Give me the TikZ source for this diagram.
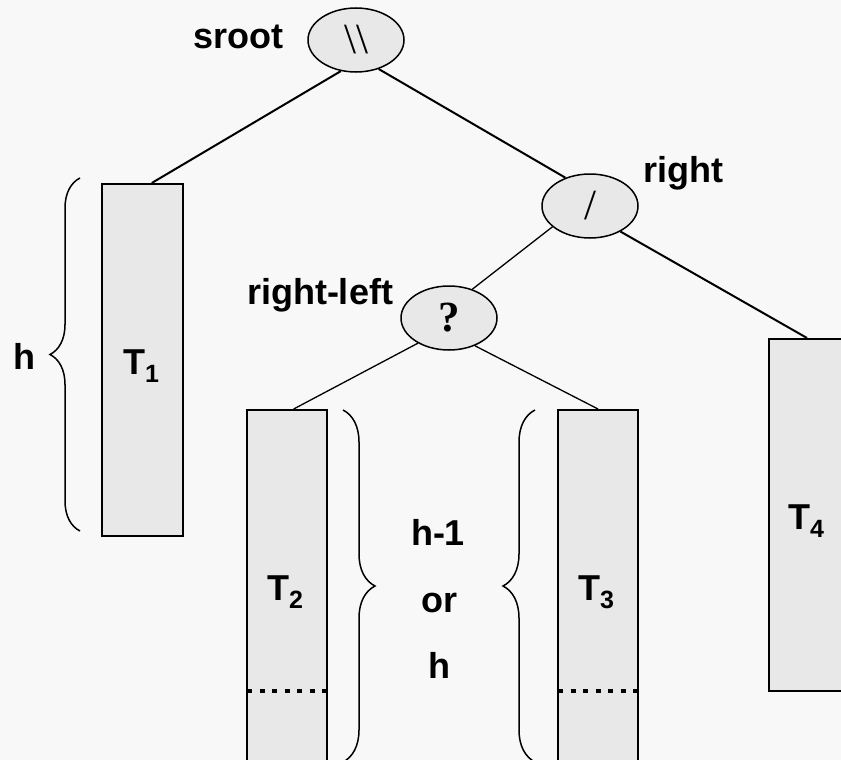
\documentclass[tikz,border=0pt]{standalone}
\usepackage{fontspec}
\setmainfont{Liberation Sans}
\newfontfamily\serifnode{Liberation Serif}
\usetikzlibrary{shapes.geometric, decorations.pathreplacing}
\definecolor{bggray}{HTML}{F8F8F8}
\definecolor{boxgray}{HTML}{E8E8E8}
\newcommand\tsub[1]{\raisebox{-8pt}{\fontsize{25}{25}\selectfont #1}}

\begin{document}
\begin{tikzpicture}[x=1pt, y=-1pt]
\tikzset{knot/.style={ellipse, draw, line width=1.5pt, fill=boxgray, minimum width=96pt, minimum height=64pt, inner sep=0pt, font=\serifnode\fontsize{43}{43}\selectfont},
  subtree/.style={rectangle, draw, line width=2pt, fill=boxgray, minimum width=80pt, inner sep=0pt},
  lab/.style={font=\fontsize{36}{36}\selectfont\bfseries, anchor=base, inner sep=0pt},
  edge/.style={line width=2pt}, thin edge/.style={line width=1.3pt},
  hbrace/.style={decorate, decoration={brace, amplitude=#1}, line width=1.5pt},
  cut/.style={line width=4.5pt, dash pattern=on 5pt off 7.5pt}}
  \clip (0,0) rectangle (841,760);
  \fill[bggray] (0,0) rectangle (841,760);

  \node[knot] (sroot) at (356,40) {\textbackslash\textbackslash};
  \node[knot] (right) at (590,206) {/};
  \node[knot, font=\serifnode\bfseries\fontsize{43}{43}\selectfont] (rightleft) at (449,318) {?};

  \node[subtree, minimum width=81pt, minimum height=352pt] (t1) at (142.5,360) {};
  \node[subtree, minimum height=380pt] (t2) at (287,600) {};
  \node[subtree, minimum height=380pt] (t3) at (598,600) {};
  \node[subtree, minimum width=76pt, minimum height=352pt] (t4) at (807,515) {};

  \node[lab] (t1lab) at (141,374) {T\tsub{1}};
  \node[lab] (t2lab) at (285,600) {T\tsub{2}};
  \node[lab] (t3lab) at (596,600) {T\tsub{3}};
  \node[lab] (t4lab) at (806,529) {T\tsub{4}};
  \node[lab] (srootlab) at (238,49) {sroot};
  \node[lab] (rightlab) at (683,182) {right};
  \node[lab] (rightleftlab) at (320,304) {right-left};
  \node[lab] (hlab) at (24,369) {h};
  \node[lab] (hminus) at (438,545) {h-1};
  \node[lab] (orlab) at (439,612) {or};
  \node[lab] (hplain) at (439,678) {h};

  \draw[edge] (sroot.244) -- (t1.87);
  \draw[edge] (sroot.308) -- (right.131);
  \draw[thin edge] (right.209) -- (rightleft.51);
  \draw[edge] (right.320) -- (t4.north);
  \draw[thin edge] (rightleft.219) -- (t2.88);
  \draw[thin edge] (rightleft.313) -- (t3.north);

  \draw[hbrace=30pt] (80,531) -- (80,178);
  \draw[hbrace=32pt] (343,410) -- (343,762);
  \draw[hbrace=32pt] (535,762) -- (535,410);

  \draw[cut] (247,691) -- (327,691);
  \draw[cut] (558,691) -- (638,691);
\end{tikzpicture}
\end{document}
